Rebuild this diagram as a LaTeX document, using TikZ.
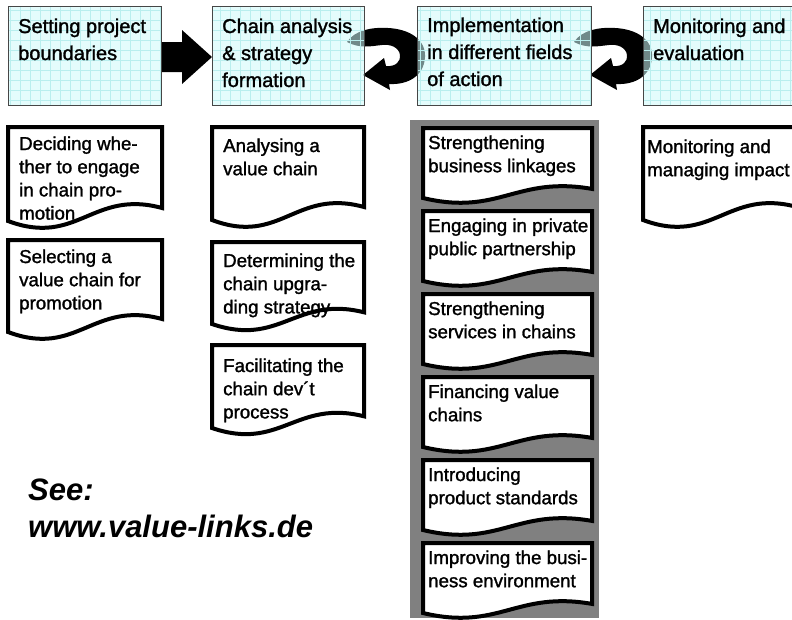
\documentclass[tikz,border=0pt]{standalone}
\usepackage{fontspec}
\setmainfont{Liberation Sans}
\newfontfamily\heavy{Liberation Sans}[FakeBold=1.4]
\usetikzlibrary{calc}
\definecolor{boxfill}{RGB}{205,250,250}
\definecolor{gridc}{RGB}{185,238,238}
\definecolor{panel}{RGB}{128,128,128}
\definecolor{boxline}{RGB}{70,70,70}
\tikzset{
  hbox/.style={anchor=north west, inner sep=0, outer sep=0},
  hfill/.style={fill=boxfill, fill opacity=0.55},
  hgrid/.style={draw=gridc, line width=0.4},
  hborder/.style={draw=boxline, line width=1},
  htext/.style={anchor=base west, inner sep=0, font=\heavy\fontsize{20}{27}\selectfont},
  doctext/.style={anchor=base west, inner sep=0, font=\heavy\fontsize{18.7}{23.2}\selectfont},
  docline/.style={fill=white, draw=black, line width=4, line join=miter},
  ringshape/.style={fill=black},
  blockarrow/.style={fill=black},
  seetext/.style={anchor=base west, inner sep=0, font=\fontsize{31}{37}\selectfont\bfseries\itshape},
}
\newcommand\mylines[1]{\parbox[t]{300pt}{\raggedright #1}}
\newcommand\docbox[9]{%
  \draw[docline] (#2,#3) -- ({#2+#4},#3) -- ({#2+#4},{#3+#5-13*#6})
    .. controls ({#2+0.55*#4},{#3+#5-32*#6}) and ({#2+0.45*#4},{#3+#5+26*#6}) .. (#2,{#3+#5}) -- cycle;
  \node[doctext] (#1) at ({#2+#7},{#3+#8}) {\mylines{#9}};
}
\newcommand\hbody[1]{%
  \fill[hfill] (#1.north west) rectangle (#1.south east);
  \begin{scope}
    \clip (#1.north west) rectangle (#1.south east);
    \draw[hgrid, step=10pt] (0,120) grid (800,0);
  \end{scope}
  \draw[hborder] (#1.north west) rectangle (#1.south east);
}
\newcommand\ringarrow{%
  \fill[ringshape] (347,42) .. controls (355,30) and (372,27) .. (388,28)
    .. controls (410,29) and (426,40) .. (425,57)
    .. controls (424,76) and (408,85) .. (389,84)
    -- (390,90) -- (363,75) -- (384,58) -- (386,66)
    .. controls (396,67) and (401,61) .. (400,55)
    .. controls (399,47) and (390,44) .. (382,45)
    .. controls (372,46) and (360,49) .. (347,42) -- cycle;
}
\begin{document}
\begin{tikzpicture}[x=1pt,y=-1pt]
\useasboundingbox (0,0) rectangle (792,619);
\clip (0,0) rectangle (792,619);

% header box geometry
\node[hbox, minimum width=153, minimum height=99] (b1) at (8,6) {};
\node[hbox, minimum width=152, minimum height=99] (b2) at (212,6) {};
\node[hbox, minimum width=174, minimum height=99] (b3) at (417,6) {};
\node[hbox, minimum width=160, minimum height=99] (b4) at (643,6) {};

% block arrow b1 -> b2
\coordinate (ba) at ($(b1.east)+(0,1.5)$);
\coordinate (bt) at ($(b2.west)+(0,1.5)$);
\fill[blockarrow] ($(ba)+(0,-15)$) -- ($(ba)+(21,-15)$) -- ($(ba)+(21,-27)$) -- (bt)
  -- ($(ba)+(21,27)$) -- ($(ba)+(21,15)$) -- ($(ba)+(0,15)$) -- cycle;

% circular arrows (behind the semi-transparent boxes)
\begin{scope}[shift={($(b2.east)-(364,55.5)$)}]
  \ringarrow
\end{scope}
\begin{scope}[shift={($(b3.east)-(364,55.5)$)}]
  \ringarrow
\end{scope}

\hbody{b1}
\hbody{b2}
\hbody{b3}
\hbody{b4}

\node[htext] (t1) at (18,33) {\mylines{Setting project\\boundaries}};
\node[htext] (t2) at (222,33) {\mylines{Chain analysis\\\& strategy\\formation}};
\node[htext] (t3) at (427,32) {\mylines{Implementation\\in different fields\\of action}};
\node[htext] (t4) at (653,33) {\mylines{Monitoring and\\evaluation}};

% grey panel
\fill[panel] (410,120) rectangle (599,618);

% documents column 1
\docbox{d11}{8}{127}{154}{94}{1}{11}{23}{Deciding whe-\\ther to engage\\in chain pro-\\motion}
\docbox{d12}{8}{240}{154}{92}{1}{11}{23}{Selecting a\\value chain for\\promotion}
% column 2
\docbox{d21}{212}{127}{152}{93}{1}{11}{25}{Analysing a\\value chain}
\docbox{d22}{212}{242}{152}{82}{0.9}{11}{25}{Determining the\\chain upgra-\\ding strategy}
\docbox{d23}{212}{345}{152}{83}{0.9}{11}{27}{Facilitating the\\chain dev´t\\process}
% column 3 (grey panel)
\docbox{d31}{423}{128}{169}{70}{0.7}{5}{21}{Strengthening\\business linkages}
\docbox{d32}{423}{211}{169}{70}{0.7}{5}{21}{Engaging in private\\public partnership}
\docbox{d33}{423}{294}{169}{70}{0.7}{5}{21}{Strengthening\\services in chains}
\docbox{d34}{423}{377}{169}{70}{0.7}{5}{21}{Financing value\\chains}
\docbox{d35}{423}{460}{169}{70}{0.7}{5}{21}{Introducing\\product standards}
\docbox{d36}{423}{543}{169}{70}{0.7}{5}{21}{Improving the busi-\\ness environment}
% column 4
\docbox{d41}{643}{127}{154}{93}{1}{4}{26}{Monitoring and\\managing impact}

\node[seetext] (see) at (28,500) {\mylines{See:\\www.value-links.de}};
\end{tikzpicture}
\end{document}
